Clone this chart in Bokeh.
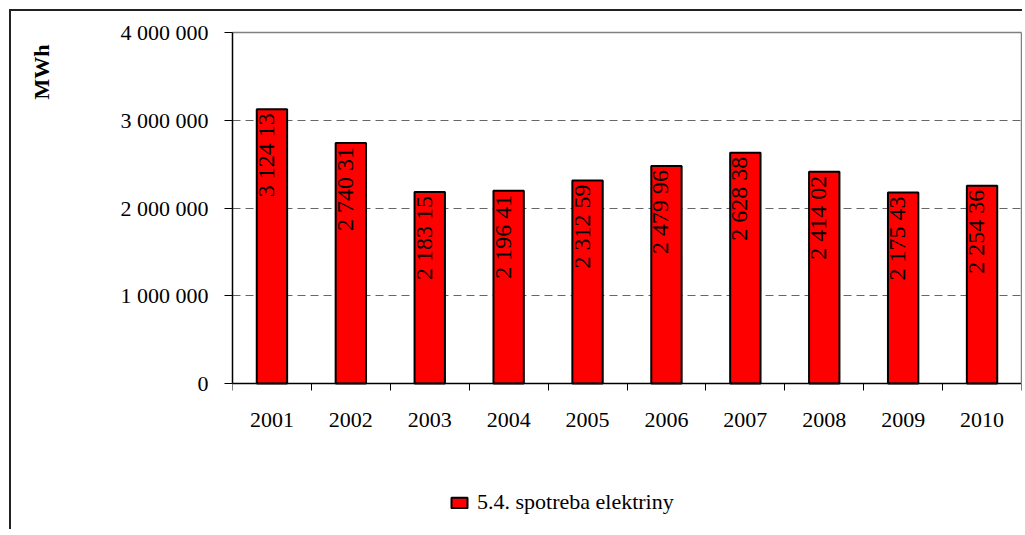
import math
from bokeh.plotting import figure
from bokeh.models import (Range1d, FixedTicker, Legend, LegendItem, Title, LinearAxis,
                          LabelSet, ColumnDataSource)
from bokeh.core.properties import value
from bokeh.embed import file_html
from bokeh.resources import INLINE

# ---- data ----
years = ["2001", "2002", "2003", "2004", "2005", "2006", "2007", "2008", "2009", "2010"]
consumption = [3124135, 2740314, 2183152, 2196410, 2312590, 2479960, 2628380, 2414020, 2175430, 2254360]
bar_labels = ["3 124 13", "2 740 31", "2 183 15", "2 196 41", "2 312 59",
              "2 479 96", "2 628 38", "2 414 02", "2 175 43", "2 254 36"]
y_ticks = [0, 1000000, 2000000, 3000000, 4000000]
y_tick_labels = ["0", "1 000 000", "2 000 000", "3 000 000", "4 000 000"]
series_name = "5.4. spotreba elektriny"
y_axis_title = "MWh"

FONT = "Liberation Serif"

# ---- layout (pixels) ----
W, H = 1013, 520
FRAME_TOP = 21          # top of the value area
ZERO_PX = 372           # pixel row of value 0 (canvas coords)
span_px = ZERO_PX - FRAME_TOP
below_px = H - ZERO_PX
y_start = -y_ticks[-1] * below_px / span_px

x_pos = [i + 0.5 for i in range(len(years))]
src = ColumnDataSource(dict(x=x_pos, top=consumption, label=bar_labels))

p = figure(width=W, height=H, output_backend="svg", toolbar_location=None,
           x_range=Range1d(0, len(years)), y_range=Range1d(y_start, y_ticks[-1]),
           min_border_left=221, min_border_top=FRAME_TOP, min_border_right=3, min_border_bottom=0)
p.styles = {"margin-left": "9px", "margin-top": "9px",
            "border-left": "2px solid #222222", "border-top": "2px solid #222222"}

p.outline_line_color = None
p.background_fill_color = "white"
p.border_fill_color = "white"

# bars
r = p.vbar(x="x", top="top", width=0.385, bottom=0, source=src,
           fill_color="#FF0000", line_color="black", line_width=2)

# value labels inside bars (rotated)
labels = LabelSet(x="x", y="top", text="label", source=src, angle=math.pi / 2,
                  text_align="right", text_baseline="alphabetic", x_offset=2, y_offset=-4,
                  text_font=value(FONT), text_font_size="24px", text_color="black")
p.add_layout(labels)

# x axis, pinned at value 0
xa = p.xaxis[0]
xa.fixed_location = 0
xa.ticker = FixedTicker(ticks=x_pos, minor_ticks=list(range(len(years) + 1)))
xa.major_label_overrides = {x: y for x, y in zip(x_pos, years)}
xa.major_tick_out = 0
xa.major_tick_in = 0
xa.minor_tick_out = 7
xa.minor_tick_in = 0
xa.minor_tick_line_color = "black"
xa.axis_line_color = "black"
xa.axis_line_width = 1.5
xa.major_label_standoff = 22
xa.major_label_text_font = FONT
xa.major_label_text_font_size = "22px"
xa.major_label_text_color = "black"

# y axis
ya = p.yaxis[0]
ya.bounds = (y_ticks[0], y_ticks[-1])
ya.ticker = FixedTicker(ticks=y_ticks)
ya.major_label_overrides = {t: l for t, l in zip(y_ticks, y_tick_labels)}
ya.major_tick_out = 8
ya.major_tick_in = 0
ya.minor_tick_out = 0
ya.minor_tick_in = 0
ya.major_tick_line_color = "black"
ya.axis_line_color = "black"
ya.axis_line_width = 1.5
ya.major_label_standoff = 16
ya.major_label_text_font = FONT
ya.major_label_text_font_size = "22px"
ya.major_label_text_color = "black"

# plot-area border: top and right (grey)
top_axis = LinearAxis(ticker=FixedTicker(ticks=[]), major_tick_out=0, major_tick_in=0,
                      minor_tick_out=0, minor_tick_in=0, major_label_standoff=0,
                      axis_line_color="#808080", axis_line_width=1.5)
p.add_layout(top_axis, "above")
right_axis = LinearAxis(ticker=FixedTicker(ticks=[]), bounds=(y_ticks[0], y_ticks[-1]),
                        major_tick_out=0, major_tick_in=0, minor_tick_out=0, minor_tick_in=0,
                        major_label_standoff=0, axis_line_color="#808080", axis_line_width=1.5)
p.add_layout(right_axis, "right")

# grid
p.xgrid.visible = False
p.ygrid.ticker = FixedTicker(ticks=y_ticks[1:-1])
p.ygrid.grid_line_color = "#666666"
p.ygrid.grid_line_dash = "8 5"
p.ygrid.grid_line_width = 1

# spacer between the tick labels and the y axis title
p.add_layout(Title(text=" ", standoff=40, text_font=FONT, text_font_size="10px"), "left")
# y axis title (top-aligned, far left)
p.add_layout(Title(text=y_axis_title, align="right", offset=12, standoff=22,
                   text_font=FONT, text_font_size="22px", text_font_style="bold",
                   text_color="black"), "left")

# legend
legend = Legend(items=[LegendItem(label=series_name, renderers=[r])],
                location=(217, 16), orientation="horizontal",
                glyph_width=20, glyph_height=13, label_standoff=8,
                padding=0, margin=0, border_line_color=None, background_fill_alpha=0,
                label_text_font=FONT, label_text_font_size="22px", label_text_color="black")
p.add_layout(legend, "center")

open("out.html", "w").write(file_html(p, INLINE))
